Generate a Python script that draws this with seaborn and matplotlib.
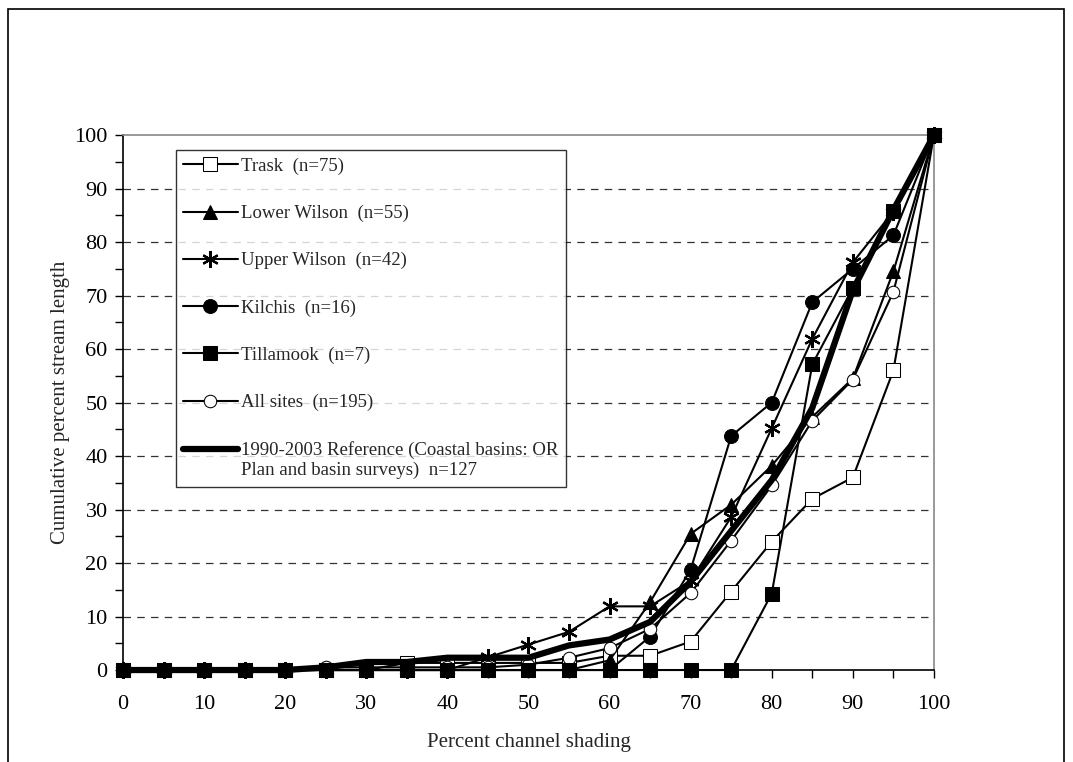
import numpy as np
import pandas as pd
import seaborn as sns
import matplotlib.pyplot as plt
from matplotlib.ticker import MultipleLocator
from matplotlib.legend_handler import HandlerLine2D

sns.set_style("ticks")
plt.rcParams['font.family'] = ['Liberation Serif', 'DejaVu Serif']

shading = list(range(0, 101, 5))

trask = [0, 0, 0, 0, 0, 0, 0, 1.33, 1.33, 1.33, 1.33, 1.33, 2.67, 2.67, 5.33, 14.67, 24, 32, 36, 56, 100]
lower_wilson = [0, 0, 0, 0, 0, 0, 0, 0, 0, 0, 0, 0, 1.82, 12.7, 25.45, 30.9, 38.2, 47.3, 54.5, 74.5, 100]
upper_wilson = [0, 0, 0, 0, 0, 0, 0, 0, 0, 2.38, 4.76, 7.14, 11.9, 11.9, 16.7, 28.6, 45.2, 61.9, 76.2, 85.7, 100]
kilchis = [0, 0, 0, 0, 0, 0, 0, 0, 0, 0, 0, 0, 0, 6.25, 18.75, 43.75, 50, 68.75, 75, 81.25, 100]
tillamook = [0, 0, 0, 0, 0, 0, 0, 0, 0, 0, 0, 0, 0, 0, 0, 0, 14.29, 57.14, 71.43, 85.71, 100]
all_sites = [0, 0, 0, 0, 0, 0.5, 0.5, 0.5, 0.5, 0.5, 1.0, 2.3, 4.1, 7.7, 14.4, 24.2, 34.5, 46.6, 54.3, 70.7, 100]
reference = [0, 0, 0, 0, 0, 0.5, 1.5, 1.5, 2.3, 2.3, 2.3, 4.6, 5.7, 9.0, 16.5, 26, 35.5, 49, 71, 86, 100]

labels = ["Trask  (n=75)", "Lower Wilson  (n=55)", "Upper Wilson  (n=42)",
          "Kilchis  (n=16)", "Tillamook  (n=7)", "All sites  (n=195)",
          "1990-2003 Reference (Coastal basins: OR\nPlan and basin surveys)  n=127"]


class FirstLineHandler(HandlerLine2D):
    # put the legend line next to the first line of a two-line label
    def create_artists(self, legend, orig_handle, xdescent, ydescent,
                       width, height, fontsize, trans):
        return super().create_artists(legend, orig_handle, xdescent,
                                      ydescent - 1.2 * fontsize, width, height,
                                      fontsize, trans)


fig = plt.figure(figsize=(10.73, 7.62), dpi=100)
ax = fig.add_axes([0.1146, 0.1207, 0.7558, 0.7021])

# outer chart border
fig.add_artist(plt.Rectangle((8 / 1073, -0.02), 1056 / 1073, 1 - 9 / 762 + 0.02,
                             transform=fig.transFigure, fill=False,
                             edgecolor='black', linewidth=1.2))

styles = [
    (trask, dict(marker='s', markerfacecolor='white', markersize=10, linewidth=1.5, zorder=3)),
    (lower_wilson, dict(marker='^', markerfacecolor='black', markersize=10, linewidth=1.5, zorder=3)),
    (upper_wilson, dict(marker=(6, 2, 0), markersize=12, markeredgewidth=1.6, linewidth=1.5, zorder=3)),
    (kilchis, dict(marker='o', markerfacecolor='black', markersize=10, linewidth=1.5, zorder=3)),
    (tillamook, dict(marker='s', markerfacecolor='black', markersize=10, linewidth=1.5, zorder=5)),
    (all_sites, dict(marker='o', markerfacecolor='white', markersize=9, linewidth=1.5, zorder=3)),
    (reference, dict(marker=None, linewidth=4.5, zorder=4)),
]

for (vals, kw), lab in zip(styles, labels):
    df = pd.DataFrame({'shading': shading, 'pct': vals})
    sns.lineplot(data=df, x='shading', y='pct', ax=ax, color='black',
                 markeredgecolor='black', label=lab, legend=False,
                 clip_on=False, **kw)

ax.set_xlim(0, 100)
ax.set_ylim(0, 100)
ax.xaxis.set_major_locator(MultipleLocator(10))
ax.xaxis.set_minor_locator(MultipleLocator(5))
ax.yaxis.set_major_locator(MultipleLocator(10))
ax.yaxis.set_minor_locator(MultipleLocator(5))
ax.tick_params(axis='both', which='both', direction='out', length=6, width=1, colors='black')
ax.tick_params(axis='x', which='major', labelsize=16, pad=12)
ax.tick_params(axis='y', which='major', labelsize=16, pad=5)

for y in range(10, 100, 10):
    ax.axhline(y, color='#333333', linestyle=(0, (6, 5)), linewidth=0.9, zorder=0)

ax.spines['left'].set_color('black')
ax.spines['bottom'].set_color('black')
ax.spines['top'].set_color('#888888')
ax.spines['right'].set_color('#888888')
for s in ax.spines.values():
    s.set_linewidth(1.2)

ax.set_xlabel("Percent channel shading", fontsize=15, labelpad=14)
ax.set_ylabel("Cumulative percent stream length", fontsize=15, labelpad=3)

handles, labs = ax.get_legend_handles_labels()
leg = ax.legend(handles, labs, loc='upper left', bbox_to_anchor=(0.065, 0.972),
                fontsize=13.5, frameon=True, fancybox=False, handlelength=2.9,
                handletextpad=0.2, labelspacing=1.6, borderpad=0.4,
                borderaxespad=0, handler_map={handles[-1]: FirstLineHandler()})
leg.get_frame().set_edgecolor('black')
leg.get_frame().set_linewidth(1.0)

fig.savefig('out.png', dpi=100)
